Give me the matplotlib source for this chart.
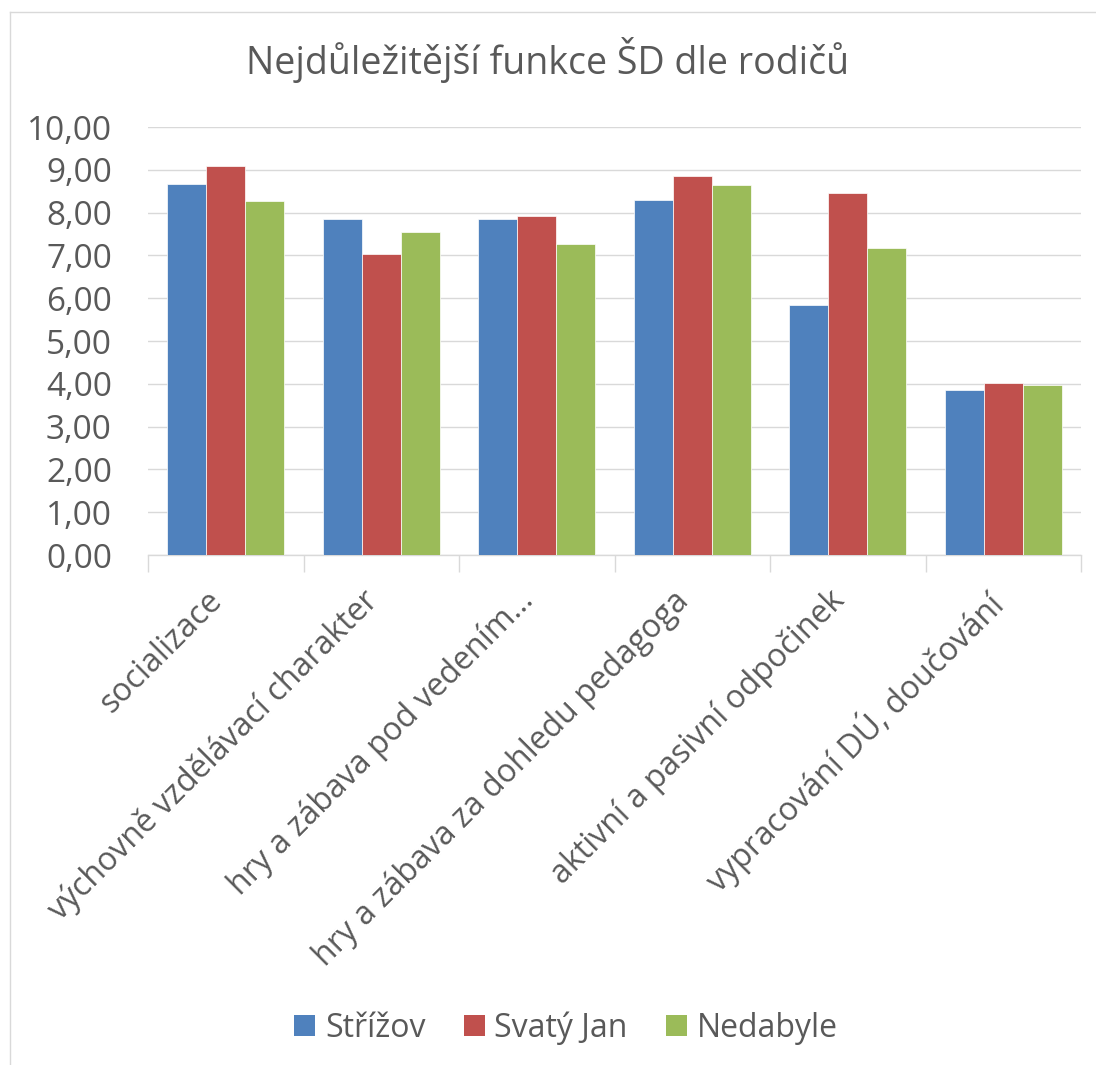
import matplotlib
matplotlib.use("Agg")
import matplotlib.pyplot as plt
import matplotlib.transforms as mtransforms
from matplotlib.patches import Patch
from matplotlib.lines import Line2D
import numpy as np

plt.rcParams['font.family'] = ['Open Sans', 'DejaVu Sans']

title = "Nejdůležitější funkce ŠD dle rodičů"
categories = ["socializace", "výchovně vzdělávací charakter", "hry a zábava pod vedením…",
              "hry a zábava za dohledu pedagoga", "aktivní a pasivní odpočinek",
              "vypracování DÚ, doučování"]
series = ["Střížov", "Svatý Jan", "Nedabyle"]
strizov = [8.67, 7.86, 7.86, 8.29, 5.83, 3.85]
svaty_jan = [9.10, 7.03, 7.91, 8.86, 8.45, 4.03]
nedabyle = [8.27, 7.54, 7.26, 8.64, 7.17, 3.98]
y_ticks = [0, 1, 2, 3, 4, 5, 6, 7, 8, 9, 10]

colors = ["#4F81BD", "#C0504D", "#9BBB59"]
text_col = "#595959"
grid_col = "#D9D9D9"

W, H = 1096, 1065
fig = plt.figure(figsize=(W / 100, H / 100), dpi=100)

# frame of the chart object (cut off on the right and bottom)
fig.add_artist(Line2D([10 / W, 1.01], [1 - 12 / H, 1 - 12 / H], color=grid_col, lw=1.0,
                      transform=fig.transFigure))
fig.add_artist(Line2D([10 / W, 10 / W], [-0.01, 1 - 12 / H], color=grid_col, lw=1.0,
                      transform=fig.transFigure))

ax = fig.add_axes([148 / W, 1 - 555 / H, 933 / W, (555 - 127) / H])

x = np.arange(len(categories))
w = 0.25
for i, vals in enumerate([strizov, svaty_jan, nedabyle]):
    ax.bar(x + (i - 1) * w, vals, w, color=colors[i], edgecolor="white", linewidth=0.5,
           label=series[i], zorder=3)

ax.set_xlim(-0.5, len(categories) - 0.5)
ax.set_ylim(0, 10)
ax.set_yticks(y_ticks)
ax.set_yticklabels([f"{v:.2f}".replace(".", ",") for v in y_ticks])
ax.yaxis.grid(True, color=grid_col, lw=1.0, zorder=0)
ax.set_axisbelow(True)

for s in ["top", "right", "left"]:
    ax.spines[s].set_visible(False)
ax.spines["bottom"].set_color(grid_col)
ax.spines["bottom"].set_linewidth(1.0)

ax.set_xticks(x)
ax.set_xticks(np.arange(-0.5, len(categories)), minor=True)
ax.set_xticklabels(categories, rotation=45, ha="right", va="top", rotation_mode="anchor")
ax.tick_params(axis="x", which="major", length=0, pad=21, labelsize=23, labelcolor=text_col)
ax.tick_params(axis="x", which="minor", length=12, width=1.0, color=grid_col)
ax.tick_params(axis="y", length=0, pad=26, labelsize=24, labelcolor=text_col)

shift = mtransforms.ScaledTranslation(-20 / 100, 0, fig.dpi_scale_trans)
for lbl in ax.get_xticklabels():
    lbl.set_transform(lbl.get_transform() + shift)

fig.text(548 / W, 1 - 74 / H, title, ha="center", va="baseline", fontsize=27, color=text_col)

handles = [Patch(facecolor=c, edgecolor="none") for c in colors]
fig.legend(handles, series, loc="center", bbox_to_anchor=(566 / W, 1 - 1028 / H), ncol=3,
           frameon=False, fontsize=23, labelcolor=text_col, handlelength=0.66,
           handleheight=0.66, handletextpad=0.3, columnspacing=1.2)

fig.savefig("out.png", dpi=100)
